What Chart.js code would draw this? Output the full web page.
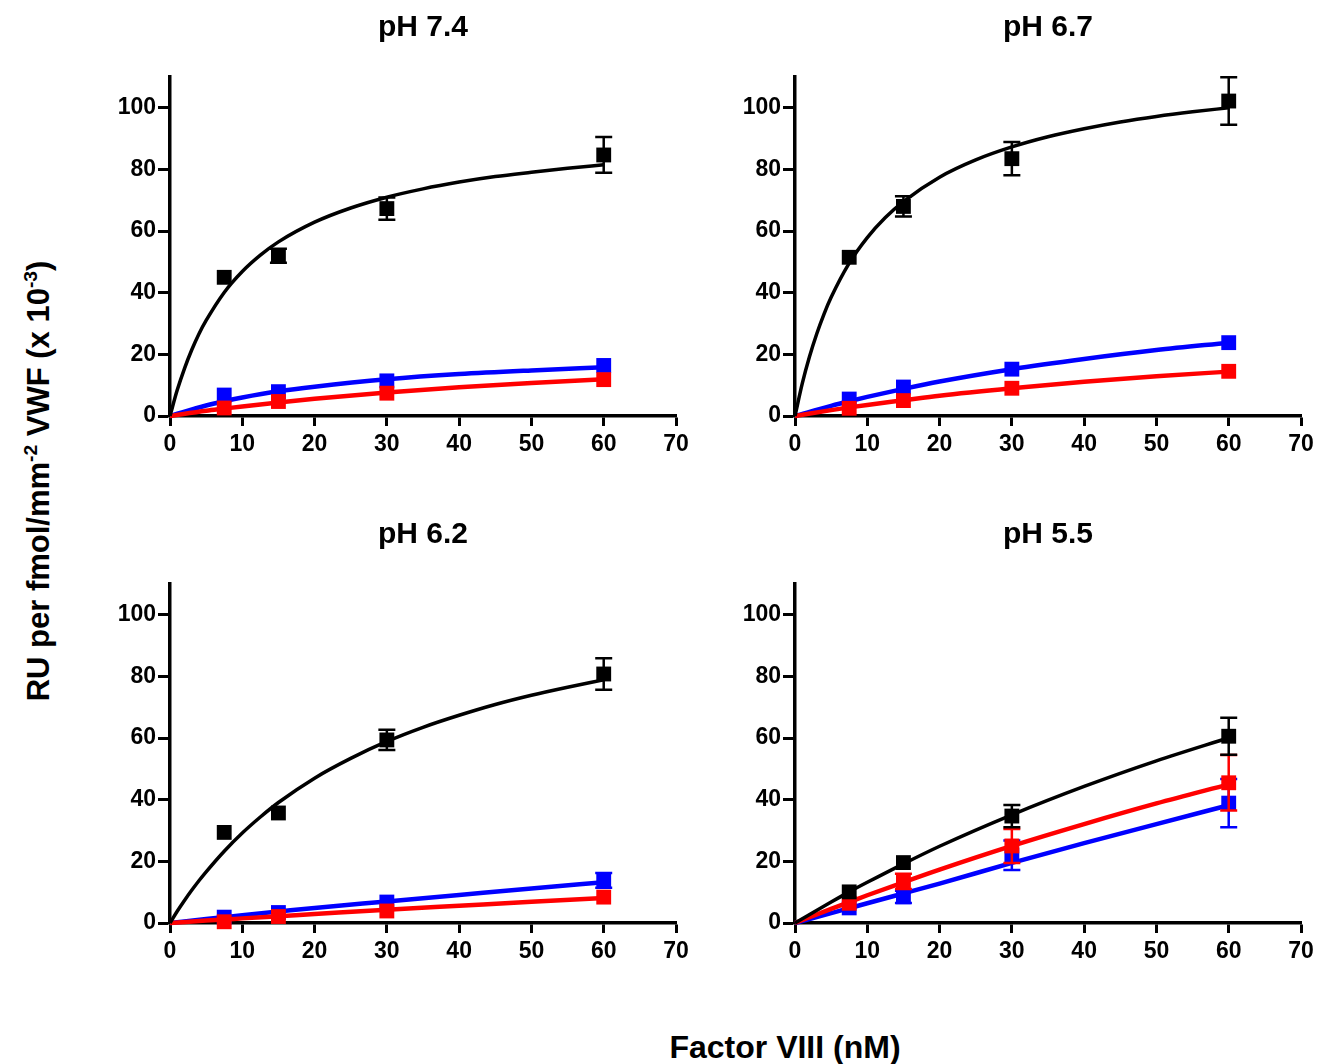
<!DOCTYPE html>
<html>
<head>
<meta charset="utf-8">
<script src="https://cdn.jsdelivr.net/npm/chart.js@4.4.1/dist/chart.umd.min.js"></script>
<style>
  html, body { margin: 0; padding: 0; background: #fff; }
  body { width: 1326px; height: 1064px; position: relative; overflow: hidden; font-family: 'Liberation Sans', Arial, sans-serif; }
  .panel { position: absolute; width: 620px; height: 480px; }
  .lab { position: absolute; font-weight: bold; color: #000; white-space: nowrap; }
  #ylab { left: 39px; top: 481px; font-size: 31px; transform: translate(-50%, -50%) rotate(-90deg); }
  #ylab sup { font-size: 0.62em; vertical-align: 0.62em; line-height: 0; }
  #xlab { left: 785px; top: 1047px; font-size: 32px; transform: translate(-50%, -50%); }
</style>
</head>
<body>
<div class="panel" style="left:80px; top:0px;"><canvas id="c1" width="620" height="480"></canvas></div>
<div class="panel" style="left:705px; top:0px;"><canvas id="c2" width="620" height="480"></canvas></div>
<div class="panel" style="left:80px; top:507px;"><canvas id="c3" width="620" height="480"></canvas></div>
<div class="panel" style="left:705px; top:507px;"><canvas id="c4" width="620" height="480"></canvas></div>
<div class="lab" id="ylab">RU per fmol/mm<sup>-2</sup> VWF (x 10<sup>-3</sup>)</div>
<div class="lab" id="xlab">Factor VIII (nM)</div>
<script>
// ---------- data ----------
const titles = ['pH 7.4', 'pH 6.7', 'pH 6.2', 'pH 5.5'];
const xTicks = [0, 10, 20, 30, 40, 50, 60, 70];
const yTicks = [0, 20, 40, 60, 80, 100];
const conc = [7.5, 15, 30, 60];              // measured Factor VIII (nM)

// measured means and SD (per panel)
const p74Black = [45.0, 52.0, 67.3, 84.7];  const p74BlackErr = [0.8, 2.3, 3.6, 5.8];
const p74Blue  = [6.8, 7.9, 11.4, 16.4];    const p74BlueErr  = [1.0, 0.6, 0.8, 1.2];
const p74Red   = [2.6, 4.7, 7.4, 11.8];     const p74RedErr   = [0.5, 0.6, 0.8, 1.0];

const p67Black = [51.5, 68.0, 83.5, 102.2]; const p67BlackErr = [1.2, 3.3, 5.4, 7.7];
const p67Blue  = [5.5, 9.4, 15.2, 23.8];    const p67BlueErr  = [0.8, 0.8, 0.8, 1.0];
const p67Red   = [2.5, 5.0, 9.0, 14.5];     const p67RedErr   = [0.5, 0.6, 0.8, 0.8];

const p62Black = [29.4, 35.7, 59.4, 80.8];  const p62BlackErr = [0.8, 1.0, 3.3, 5.1];
const p62Blue  = [1.9, 3.4, 6.8, 13.8];     const p62BlueErr  = [0.6, 0.6, 0.8, 2.4];
const p62Red   = [0.4, 2.1, 3.9, 8.4];      const p62RedErr   = [0.8, 0.6, 0.8, 1.2];

const p55Black = [10.1, 19.6, 34.7, 60.6];  const p55BlackErr = [0.8, 1.5, 3.6, 6.0];
const p55Blue  = [4.9, 8.5, 22.0, 38.9];    const p55BlueErr  = [1.0, 2.0, 4.8, 7.8];
const p55Red   = [6.4, 13.5, 25.0, 45.5];   const p55RedErr   = [1.0, 2.5, 5.5, 9.0];

// fitted curves
const fitXFine = [0, 1, 2, 3, 4, 5, 7.5, 10, 12.5, 15, 20, 25, 30, 35, 40, 45, 50, 55, 60];
const fitX     = [0, 5, 7.5, 10, 15, 20, 30, 40, 50, 60];

const p74BlackFit = [0, 8.4, 15.4, 21.4, 26.6, 31.0, 40.1, 46.9, 52.2, 56.5, 62.9, 67.5, 71.0, 73.7, 75.9, 77.7, 79.1, 80.4, 81.5];
const p74BlueFit  = [0, 3.4, 4.8, 6.0, 8.0, 9.5, 11.9, 13.6, 14.8, 15.8];
const p74RedFit   = [0, 1.7, 2.4, 3.1, 4.4, 5.6, 7.6, 9.3, 10.7, 11.9];

const p67BlackFit = [0, 10.5, 19.2, 26.6, 33.0, 38.5, 49.6, 57.9, 64.4, 69.6, 77.5, 83.1, 87.3, 90.6, 93.2, 95.4, 97.2, 98.7, 100.0];
const p67BlueFit  = [0, 3.3, 4.8, 6.2, 8.8, 11.2, 15.2, 18.5, 21.4, 23.8];
const p67RedFit   = [0, 1.9, 2.8, 3.6, 5.1, 6.6, 9.0, 11.1, 12.9, 14.4];

const p62BlackFit = [0, 3.8, 7.3, 10.6, 13.7, 16.6, 23.3, 29.2, 34.4, 39.1, 47.0, 53.4, 58.9, 63.5, 67.4, 70.9, 73.9, 76.5, 78.9];
const p62BlueFit  = [0, 1.3, 1.9, 2.5, 3.7, 4.9, 7.0, 9.1, 11.2, 13.2];
const p62RedFit   = [0, 0.8, 1.1, 1.5, 2.2, 2.9, 4.3, 5.6, 6.9, 8.1];

const p55BlackFit = [0, 6.8, 10.1, 13.2, 19.2, 24.9, 35.1, 44.3, 52.6, 60.1];
const p55BlueFit  = [0, 3.2, 4.8, 6.4, 9.6, 12.8, 19.5, 25.9, 32.1, 38.2];
const p55RedFit   = [0, 4.6, 6.8, 9.0, 13.2, 17.3, 25.0, 32.1, 38.8, 45.0];

// ---------- styling ----------
const BLACK = '#000000', BLUE = '#0000ff', RED = '#ff0000';
const FONT = "'Liberation Sans', Arial, sans-serif";
const MARKER_R = 10.5;                       // rect side = 2 * R * sqrt(1/2)

const toPts = (xs, ys) => xs.map((x, i) => ({ x: x, y: ys[i] }));

const errorBars = {
  id: 'errorBars',
  beforeDatasetDraw(chart, args) {
    const ds = chart.data.datasets[args.index];
    if (!ds.errors) return;
    const ctx = chart.ctx, xs = chart.scales.x, ys = chart.scales.y;
    const half = MARKER_R * Math.SQRT1_2;
    ctx.save();
    ctx.strokeStyle = ds.borderColor;
    ctx.lineWidth = 2.5;
    ds.data.forEach((p, i) => {
      const e = ds.errors[i];
      const px = xs.getPixelForValue(p.x);
      const cy = ys.getPixelForValue(p.y);
      const top = ys.getPixelForValue(p.y + e);
      const bot = ys.getPixelForValue(p.y - e);
      if (cy - top < half - 2) return;        // bar hidden behind the marker
      ctx.beginPath();
      ctx.moveTo(px, top); ctx.lineTo(px, bot);
      ctx.moveTo(px - 8.5, top); ctx.lineTo(px + 8.5, top);
      ctx.moveTo(px - 8.5, bot); ctx.lineTo(px + 8.5, bot);
      ctx.stroke();
    });
    ctx.restore();
  }
};

function curve(xs, ys, color, width, order) {
  return { data: toPts(xs, ys), showLine: true, borderColor: color, borderWidth: width,
           pointRadius: 0, cubicInterpolationMode: 'monotone', fill: false, order: order, clip: false };
}
function points(ys, errs, color, order) {
  return { data: toPts(conc, ys), errors: errs, showLine: false, borderColor: color,
           backgroundColor: color, pointStyle: 'rect', pointRadius: MARKER_R, borderWidth: 0,
           order: order, clip: false };
}

function makeChart(id, title, sets) {
  const [bk, bkE, bl, blE, rd, rdE, bkF, bkFx, blF, rdF] = sets;
  new Chart(document.getElementById(id), {
    type: 'scatter',
    data: {
      datasets: [
        points(bk, bkE, BLACK, 0),
        curve(bkFx, bkF, BLACK, 3.5, 1),
        points(rd, rdE, RED, 2),
        curve(fitX, rdF, RED, 4.5, 3),
        points(bl, blE, BLUE, 4),
        curve(fitX, blF, BLUE, 4.5, 5)
      ]
    },
    options: {
      responsive: false,
      animation: false,
      events: [],
      layout: { padding: { left: 0, right: 24, top: 0, bottom: 0 } },
      plugins: {
        legend: { display: false },
        tooltip: { enabled: false },
        title: {
          display: true, text: title, fullSize: false, color: BLACK,
          font: { family: FONT, size: 30, weight: 'bold' },
          padding: { top: 10, bottom: 31 }
        }
      },
      scales: {
        x: {
          type: 'linear', min: 0, max: 70,
          afterBuildTicks: (ax) => { ax.ticks = xTicks.map(v => ({ value: v })); },
          afterFit: (s) => { s.height = 64; },
          border: { display: true, color: BLACK, width: 3.5 },
          grid: { display: true, drawOnChartArea: false, drawTicks: true, tickLength: 10, tickWidth: 3, tickColor: BLACK },
          ticks: { color: BLACK, padding: 5, maxRotation: 0, font: { family: FONT, size: 23, weight: 'bold' } }
        },
        y: {
          type: 'linear', min: 0, max: 110,
          afterBuildTicks: (ax) => { ax.ticks = yTicks.map(v => ({ value: v })); },
          afterFit: (s) => { s.width = 90; },
          border: { display: true, color: BLACK, width: 3.5 },
          grid: { display: true, drawOnChartArea: false, drawTicks: true, tickLength: 12, tickWidth: 3, tickColor: BLACK },
          ticks: { color: BLACK, padding: 2, font: { family: FONT, size: 23, weight: 'bold' } }
        }
      }
    },
    plugins: [errorBars]
  });
}

makeChart('c1', titles[0], [p74Black, p74BlackErr, p74Blue, p74BlueErr, p74Red, p74RedErr, p74BlackFit, fitXFine, p74BlueFit, p74RedFit]);
makeChart('c2', titles[1], [p67Black, p67BlackErr, p67Blue, p67BlueErr, p67Red, p67RedErr, p67BlackFit, fitXFine, p67BlueFit, p67RedFit]);
makeChart('c3', titles[2], [p62Black, p62BlackErr, p62Blue, p62BlueErr, p62Red, p62RedErr, p62BlackFit, fitXFine, p62BlueFit, p62RedFit]);
makeChart('c4', titles[3], [p55Black, p55BlackErr, p55Blue, p55BlueErr, p55Red, p55RedErr, p55BlackFit, fitX, p55BlueFit, p55RedFit]);
</script>
</body>
</html>
